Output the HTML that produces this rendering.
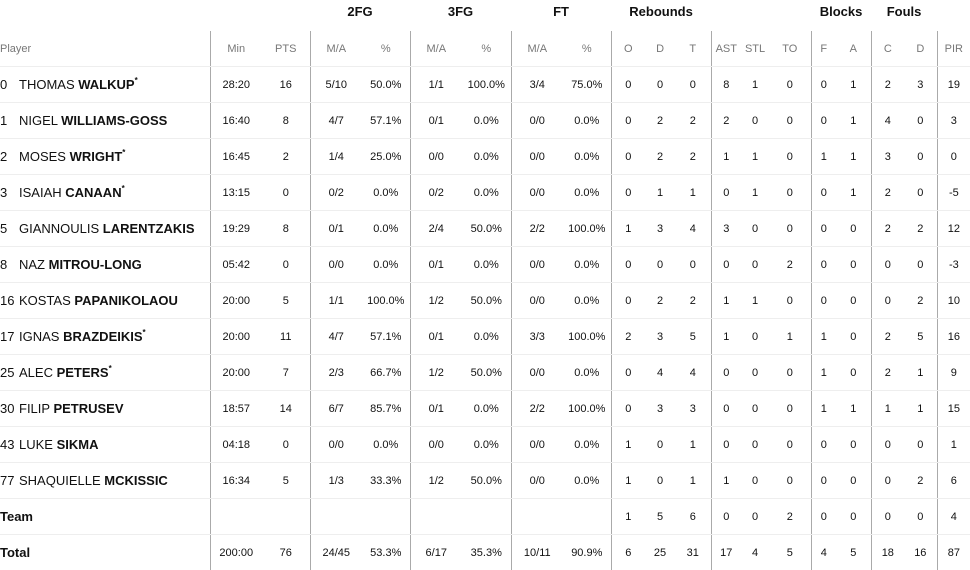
<!DOCTYPE html>
<html><head><meta charset="utf-8"><style>
body{margin:0;background:#fff;font-family:"Liberation Sans",sans-serif;color:#111;}
table{border-collapse:collapse;table-layout:fixed;width:970px;position:absolute;left:0;top:0;}
td{padding:0;text-align:center;font-size:11px;height:35px;border-bottom:1px solid #eee;white-space:nowrap;overflow:visible;}
tr.g td{height:27px;border-bottom:none;font-size:13px;font-weight:bold;vertical-align:top;padding-top:4px;}
tr.h td{height:35px;color:#777;font-size:11px;border-top:none;}
td.p{text-align:left;font-size:13px;}
tr.h td.p{font-size:11px;}
.s{border-left:1px solid #aaa;}
tr.g td.s{border-left:none;}
.n{display:inline-block;width:15px;margin-right:4px;}
b{font-weight:bold;}
sup{font-size:8px;vertical-align:top;position:relative;top:-1px;font-weight:bold;}
tr.last td{border-bottom:none;}
</style></head><body>
<table>
<colgroup>
<col style="width:210px"><col style="width:52px"><col style="width:48px">
<col style="width:52px"><col style="width:48px">
<col style="width:52px"><col style="width:49px">
<col style="width:52px"><col style="width:48px">
<col style="width:34px"><col style="width:30px"><col style="width:36px">
<col style="width:30px"><col style="width:28px"><col style="width:42px">
<col style="width:25px"><col style="width:35px">
<col style="width:33px"><col style="width:33px">
<col style="width:33px">
</colgroup>
<tr class="g"><td></td><td></td><td></td><td colspan="2">2FG</td><td colspan="2">3FG</td><td colspan="2">FT</td><td colspan="3">Rebounds</td><td colspan="3"></td><td colspan="2">Blocks</td><td colspan="2">Fouls</td><td></td></tr>
<tr class="h"><td class="p">Player</td><td class="s">Min</td><td>PTS</td><td class="s">M/A</td><td>%</td><td class="s">M/A</td><td>%</td><td class="s">M/A</td><td>%</td><td class="s">O</td><td>D</td><td>T</td><td class="s">AST</td><td>STL</td><td>TO</td><td class="s">F</td><td>A</td><td class="s">C</td><td>D</td><td class="s">PIR</td></tr>
<tr><td class="p"><span class="n">0</span>THOMAS <b>WALKUP</b><sup>*</sup></td><td class="s">28:20</td><td>16</td><td class="s">5/10</td><td>50.0%</td><td class="s">1/1</td><td>100.0%</td><td class="s">3/4</td><td>75.0%</td><td class="s">0</td><td>0</td><td>0</td><td class="s">8</td><td>1</td><td>0</td><td class="s">0</td><td>1</td><td class="s">2</td><td>3</td><td class="s">19</td></tr>
<tr><td class="p"><span class="n">1</span>NIGEL <b>WILLIAMS-GOSS</b></td><td class="s">16:40</td><td>8</td><td class="s">4/7</td><td>57.1%</td><td class="s">0/1</td><td>0.0%</td><td class="s">0/0</td><td>0.0%</td><td class="s">0</td><td>2</td><td>2</td><td class="s">2</td><td>0</td><td>0</td><td class="s">0</td><td>1</td><td class="s">4</td><td>0</td><td class="s">3</td></tr>
<tr><td class="p"><span class="n">2</span>MOSES <b>WRIGHT</b><sup>*</sup></td><td class="s">16:45</td><td>2</td><td class="s">1/4</td><td>25.0%</td><td class="s">0/0</td><td>0.0%</td><td class="s">0/0</td><td>0.0%</td><td class="s">0</td><td>2</td><td>2</td><td class="s">1</td><td>1</td><td>0</td><td class="s">1</td><td>1</td><td class="s">3</td><td>0</td><td class="s">0</td></tr>
<tr><td class="p"><span class="n">3</span>ISAIAH <b>CANAAN</b><sup>*</sup></td><td class="s">13:15</td><td>0</td><td class="s">0/2</td><td>0.0%</td><td class="s">0/2</td><td>0.0%</td><td class="s">0/0</td><td>0.0%</td><td class="s">0</td><td>1</td><td>1</td><td class="s">0</td><td>1</td><td>0</td><td class="s">0</td><td>1</td><td class="s">2</td><td>0</td><td class="s">-5</td></tr>
<tr><td class="p"><span class="n">5</span>GIANNOULIS <b>LARENTZAKIS</b></td><td class="s">19:29</td><td>8</td><td class="s">0/1</td><td>0.0%</td><td class="s">2/4</td><td>50.0%</td><td class="s">2/2</td><td>100.0%</td><td class="s">1</td><td>3</td><td>4</td><td class="s">3</td><td>0</td><td>0</td><td class="s">0</td><td>0</td><td class="s">2</td><td>2</td><td class="s">12</td></tr>
<tr><td class="p"><span class="n">8</span>NAZ <b>MITROU-LONG</b></td><td class="s">05:42</td><td>0</td><td class="s">0/0</td><td>0.0%</td><td class="s">0/1</td><td>0.0%</td><td class="s">0/0</td><td>0.0%</td><td class="s">0</td><td>0</td><td>0</td><td class="s">0</td><td>0</td><td>2</td><td class="s">0</td><td>0</td><td class="s">0</td><td>0</td><td class="s">-3</td></tr>
<tr><td class="p"><span class="n">16</span>KOSTAS <b>PAPANIKOLAOU</b></td><td class="s">20:00</td><td>5</td><td class="s">1/1</td><td>100.0%</td><td class="s">1/2</td><td>50.0%</td><td class="s">0/0</td><td>0.0%</td><td class="s">0</td><td>2</td><td>2</td><td class="s">1</td><td>1</td><td>0</td><td class="s">0</td><td>0</td><td class="s">0</td><td>2</td><td class="s">10</td></tr>
<tr><td class="p"><span class="n">17</span>IGNAS <b>BRAZDEIKIS</b><sup>*</sup></td><td class="s">20:00</td><td>11</td><td class="s">4/7</td><td>57.1%</td><td class="s">0/1</td><td>0.0%</td><td class="s">3/3</td><td>100.0%</td><td class="s">2</td><td>3</td><td>5</td><td class="s">1</td><td>0</td><td>1</td><td class="s">1</td><td>0</td><td class="s">2</td><td>5</td><td class="s">16</td></tr>
<tr><td class="p"><span class="n">25</span>ALEC <b>PETERS</b><sup>*</sup></td><td class="s">20:00</td><td>7</td><td class="s">2/3</td><td>66.7%</td><td class="s">1/2</td><td>50.0%</td><td class="s">0/0</td><td>0.0%</td><td class="s">0</td><td>4</td><td>4</td><td class="s">0</td><td>0</td><td>0</td><td class="s">1</td><td>0</td><td class="s">2</td><td>1</td><td class="s">9</td></tr>
<tr><td class="p"><span class="n">30</span>FILIP <b>PETRUSEV</b></td><td class="s">18:57</td><td>14</td><td class="s">6/7</td><td>85.7%</td><td class="s">0/1</td><td>0.0%</td><td class="s">2/2</td><td>100.0%</td><td class="s">0</td><td>3</td><td>3</td><td class="s">0</td><td>0</td><td>0</td><td class="s">1</td><td>1</td><td class="s">1</td><td>1</td><td class="s">15</td></tr>
<tr><td class="p"><span class="n">43</span>LUKE <b>SIKMA</b></td><td class="s">04:18</td><td>0</td><td class="s">0/0</td><td>0.0%</td><td class="s">0/0</td><td>0.0%</td><td class="s">0/0</td><td>0.0%</td><td class="s">1</td><td>0</td><td>1</td><td class="s">0</td><td>0</td><td>0</td><td class="s">0</td><td>0</td><td class="s">0</td><td>0</td><td class="s">1</td></tr>
<tr><td class="p"><span class="n">77</span>SHAQUIELLE <b>MCKISSIC</b></td><td class="s">16:34</td><td>5</td><td class="s">1/3</td><td>33.3%</td><td class="s">1/2</td><td>50.0%</td><td class="s">0/0</td><td>0.0%</td><td class="s">1</td><td>0</td><td>1</td><td class="s">1</td><td>0</td><td>0</td><td class="s">0</td><td>0</td><td class="s">0</td><td>2</td><td class="s">6</td></tr>
<tr><td class="p"><b>Team</b></td><td class="s"></td><td></td><td class="s"></td><td></td><td class="s"></td><td></td><td class="s"></td><td></td><td class="s">1</td><td>5</td><td>6</td><td class="s">0</td><td>0</td><td>2</td><td class="s">0</td><td>0</td><td class="s">0</td><td>0</td><td class="s">4</td></tr>
<tr class="last"><td class="p"><b>Total</b></td><td class="s">200:00</td><td>76</td><td class="s">24/45</td><td>53.3%</td><td class="s">6/17</td><td>35.3%</td><td class="s">10/11</td><td>90.9%</td><td class="s">6</td><td>25</td><td>31</td><td class="s">17</td><td>4</td><td>5</td><td class="s">4</td><td>5</td><td class="s">18</td><td>16</td><td class="s">87</td></tr>
</table>
</body></html>
